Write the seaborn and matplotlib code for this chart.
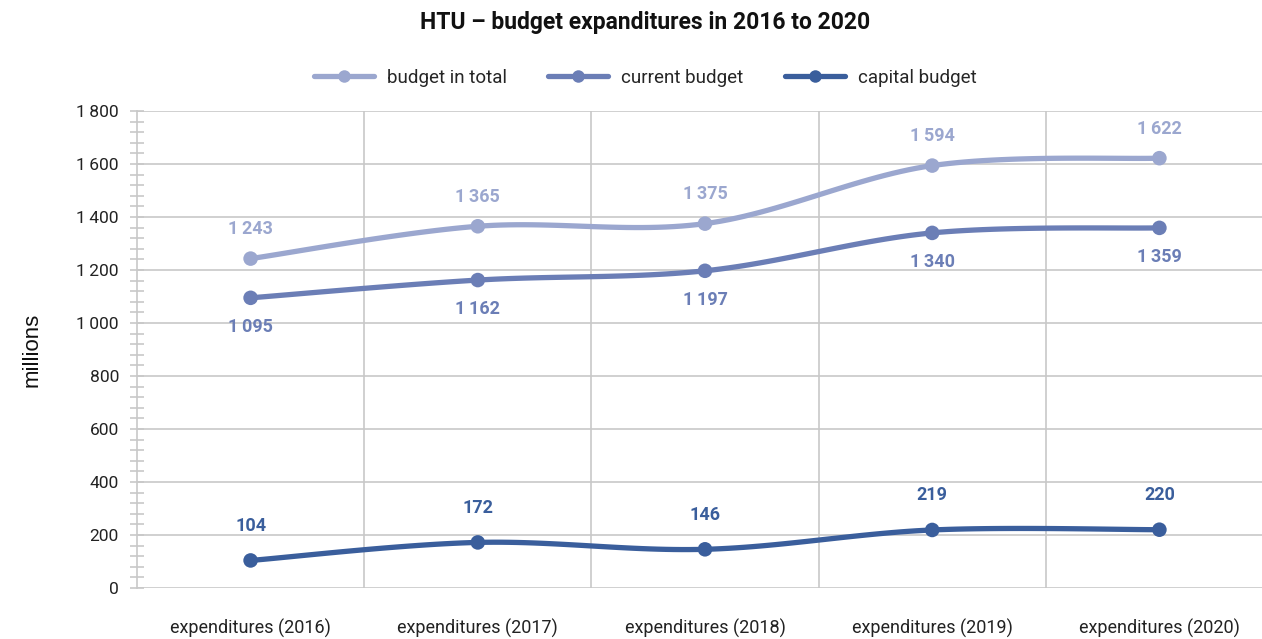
import numpy as np
import pandas as pd
import matplotlib
matplotlib.use("Agg")
import matplotlib.pyplot as plt
from matplotlib.ticker import MultipleLocator
from matplotlib.lines import Line2D
import seaborn as sns

categories = ["expenditures (2016)", "expenditures (2017)", "expenditures (2018)",
              "expenditures (2019)", "expenditures (2020)"]
series_names = ["budget in total", "current budget", "capital budget"]
budget_total = [1243, 1365, 1375, 1594, 1622]
current_budget = [1095, 1162, 1197, 1340, 1359]
capital_budget = [104, 172, 146, 219, 220]
colors = ["#9BA7CF", "#6B7EB6", "#3A5E9C"]
# label placement per series: offset in points (above positive, below negative)
label_offsets = [21, -21, 25]

sns.set_theme(style="white")
plt.rcParams["font.family"] = ["Roboto", "DejaVu Sans"]

df = pd.DataFrame({
    "category": categories * 3,
    "x": list(range(len(categories))) * 3,
    "series": np.repeat(series_names, len(categories)),
    "value": budget_total + current_budget + capital_budget,
})


def smooth_curve(xs, ys, steps=30):
    """Cardinal (Catmull-Rom) spline drawn as cubic Bezier segments."""
    xs = np.asarray(xs, float)
    ys = np.asarray(ys, float)
    px = np.concatenate([[xs[0]], xs, [xs[-1]]])
    py = np.concatenate([[ys[0]], ys, [ys[-1]]])
    out_x, out_y = [], []
    t = np.linspace(0, 1, steps)
    for i in range(1, len(px) - 2):
        p0 = np.array([px[i], py[i]])
        p3 = np.array([px[i + 1], py[i + 1]])
        c1 = p0 + (np.array([px[i + 1], py[i + 1]]) - np.array([px[i - 1], py[i - 1]])) / 6
        c2 = p3 - (np.array([px[i + 2], py[i + 2]]) - np.array([px[i], py[i]])) / 6
        b = ((1 - t) ** 3)[:, None] * p0 + (3 * (1 - t) ** 2 * t)[:, None] * c1 \
            + (3 * (1 - t) * t ** 2)[:, None] * c2 + (t ** 3)[:, None] * p3
        out_x.extend(b[:, 0])
        out_y.extend(b[:, 1])
    return np.array(out_x), np.array(out_y)


def fmt(v):
    return f"{v:,}".replace(",", "\u2009")


fig = plt.figure(figsize=(12.62, 6.39), dpi=100)
ax = fig.add_axes([137 / 1262, (639 - 588) / 639, (1273 - 137) / 1262, (588 - 111) / 639])

for name, color, off in zip(series_names, colors, label_offsets):
    sub = df[df["series"] == name]
    sx, sy = smooth_curve(sub["x"], sub["value"])
    ax.plot(sx, sy, color=color, lw=3.8, solid_capstyle="round", zorder=3)
    sns.scatterplot(data=sub, x="x", y="value", color=color, s=110,
                    edgecolor="none", ax=ax, zorder=4, legend=False)
    for xv, yv in zip(sub["x"], sub["value"]):
        ax.annotate(fmt(yv), (xv, yv), xytext=(0, off), textcoords="offset points",
                    ha="center", va="center", fontsize=13, fontweight="bold",
                    color=color, zorder=5)

ax.set_xlim(-0.5, len(categories) - 0.5)
ax.set_ylim(0, 1800)
ax.yaxis.set_major_locator(MultipleLocator(200))
ax.yaxis.set_minor_locator(MultipleLocator(40))
ax.set_xticks(np.arange(len(categories)))
ax.set_xticklabels(categories, fontsize=13, color="#222222")
ax.set_yticks(np.arange(0, 1801, 200))
ax.set_yticklabels([fmt(v) for v in range(0, 1801, 200)], fontsize=12.5, color="#222222")
ax.tick_params(axis="x", length=0, pad=22)
ax.tick_params(axis="y", which="both", left=True, direction="inout", length=10,
               width=1.2, color="#C8C8C8")
ax.tick_params(axis="y", which="major", pad=8)
ax.set_xlabel("")
ax.set_ylabel("millions", fontsize=16, family=["Liberation Sans", "DejaVu Sans"],
              color="#111111", labelpad=24)

ax.grid(axis="y", which="major", color="#C8C8C8", lw=1.2, zorder=0)
for b in np.arange(0.5, len(categories) - 0.5, 1):
    ax.axvline(b, color="#C8C8C8", lw=1.2, zorder=0)
for s in ["top", "right", "bottom"]:
    ax.spines[s].set_visible(False)
ax.spines["left"].set_color("#C8C8C8")
ax.spines["left"].set_linewidth(1.2)

handles = [Line2D([0], [0], color=c, lw=3.8, marker="o", markersize=9, markeredgewidth=0)
           for c in colors]
fig.legend(handles, series_names, loc="center", bbox_to_anchor=(645 / 1262, 1 - 78 / 639),
           ncol=3, frameon=False, fontsize=13.5, handlelength=3.2, columnspacing=2.2,
           handletextpad=0.7)

fig.text(645 / 1262, 1 - 22 / 639, "HTU \u2013 budget expanditures in 2016 to 2020",
         ha="center", va="center", fontsize=16.5, fontweight="bold", color="#111111")

fig.savefig("out.png", dpi=100, facecolor="white")
